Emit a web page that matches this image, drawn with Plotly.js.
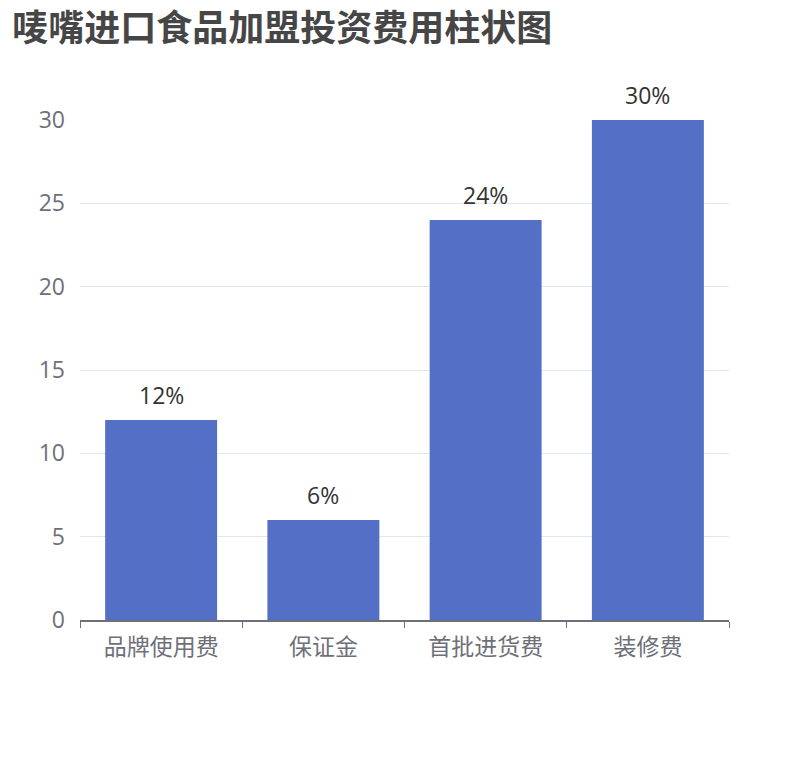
<!DOCTYPE html>
<html>
<head>
<meta charset="utf-8">
<script src="https://cdn.plot.ly/plotly-3.0.1.min.js"></script>
<style>
  html, body { margin: 0; padding: 0; background: #fff; }
  #chart { width: 810px; height: 760px; }
</style>
</head>
<body>
<div id="chart"></div>
<script>
// 费用类别与占比
var categories = ['品牌使用费', '保证金', '首批进货费', '装修费'];
var values = [12, 6, 24, 30];
var yTicks = [0, 5, 10, 15, 20, 25, 30];

var trace = {
    x: categories,
    y: values,
    type: 'bar',
    marker: { color: '#5470c6' },
    hoverinfo: 'none'
};

// 柱顶百分比标签
var labels = categories.map(function (c, i) {
    return {
        x: c,
        y: values[i],
        xref: 'x',
        yref: 'y',
        text: values[i] + '%',
        showarrow: false,
        yanchor: 'bottom',
        yshift: 7,
        font: { size: 23, color: '#333333' }
    };
});

var layout = {
    width: 810,
    height: 760,
    margin: { l: 80, r: 81, t: 120, b: 140 },
    paper_bgcolor: '#ffffff',
    plot_bgcolor: '#ffffff',
    font: { family: '"Open Sans", "Noto Sans CJK SC", sans-serif', color: '#6e7079' },
    title: {
        text: '<b>唛嘴进口食品加盟投资费用柱状图</b>',
        x: 0.015,
        xanchor: 'left',
        y: 0.963,
        yanchor: 'middle',
        font: { family: '"Noto Sans CJK SC", sans-serif', size: 36, color: '#464646' }
    },
    bargap: 0.31,
    showlegend: false,
    annotations: labels,
    xaxis: {
        type: 'category',
        showline: true,
        linecolor: '#6e7079',
        linewidth: 1.5,
        ticks: 'outside',
        tickson: 'boundaries',
        ticklen: 6,
        tickcolor: '#6e7079',
        showgrid: false,
        ticklabelstandoff: 6,
        tickfont: { size: 23, color: '#6e7079' }
    },
    yaxis: {
        range: [0, 30],
        tickvals: yTicks,
        showline: false,
        zeroline: false,
        gridcolor: '#e0e6f1',
        gridwidth: 1,
        ticks: '',
        ticklabelstandoff: 14,
        tickfont: { size: 23, color: '#6e7079' }
    }
};

Plotly.newPlot('chart', [trace], layout, { displayModeBar: false, staticPlot: true });
</script>
</body>
</html>
